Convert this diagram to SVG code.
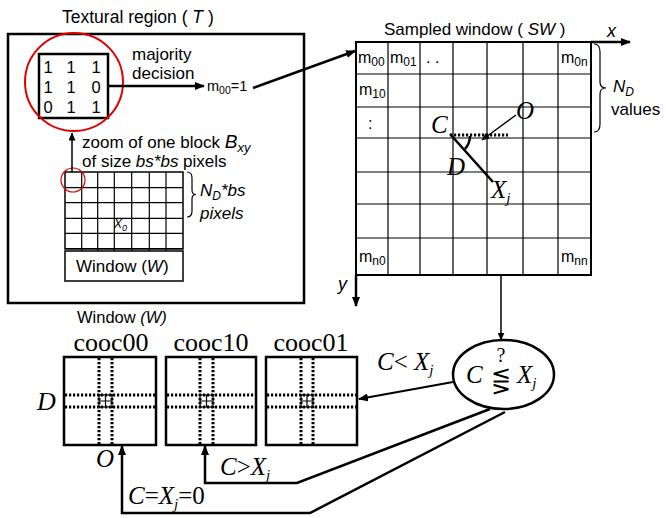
<svg xmlns="http://www.w3.org/2000/svg" width="666" height="518" viewBox="0 0 666 518">
<defs>
<marker id="ah" markerWidth="10" markerHeight="8" refX="9" refY="4" orient="auto" markerUnits="userSpaceOnUse"><path d="M0,0 L10,4 L0,8 Z" fill="#000"/></marker>
<marker id="ahs" markerWidth="8" markerHeight="7" refX="7.5" refY="3.5" orient="auto" markerUnits="userSpaceOnUse"><path d="M0,0 L8,3.5 L0,7 Z" fill="#000"/></marker>
<style>
.sans{font-family:"Liberation Sans",Arial,sans-serif;fill:#000}
.serif{font-family:"Liberation Serif","Times New Roman",serif;fill:#000}
.it{font-style:italic}
.thin{stroke:#000;stroke-width:1.2;fill:none}
.box{stroke:#000;stroke-width:2.5;fill:#fff}
.con{stroke:#000;stroke-width:2.5;fill:none}
.dot{stroke:#000;stroke-width:3;stroke-dasharray:2.2 1.8;fill:none}
</style>
</defs>
<rect width="666" height="518" fill="#fff"/>

<g id="textural-region">
<rect x="8" y="34" width="296" height="269" class="box" fill="none"/>
<text x="62" y="23" class="sans" font-size="17.5">Textural region ( <tspan class="it">T</tspan> )</text>
<rect x="39" y="54" width="69" height="64" fill="none" stroke="#000" stroke-width="2.5"/>
<g class="sans" font-size="16.5" text-anchor="middle">
<text x="48" y="73">1</text><text x="71" y="73">1</text><text x="96" y="73">1</text>
<text x="48" y="93">1</text><text x="71" y="93">1</text><text x="96" y="93">0</text>
<text x="48" y="113">0</text><text x="71" y="113">1</text><text x="96" y="113">1</text>
</g>
<circle cx="74" cy="82" r="49" fill="none" stroke="#e00000" stroke-width="2"/>
<text x="132" y="60" class="sans" font-size="17">majority</text>
<text x="132" y="79" class="sans" font-size="17">decision</text>
<text x="207" y="91" class="sans" font-size="14.5">m<tspan font-size="10.5" dy="3">00</tspan><tspan dy="-3">=1</tspan></text>
<text x="82" y="148" class="sans" font-size="17">zoom of one block <tspan class="it" font-size="19">B</tspan><tspan class="it" font-size="13" dy="4">xy</tspan></text>
<text x="82" y="167" class="sans" font-size="17">of size <tspan class="it">bs*bs</tspan> pixels</text>
</g>

<g id="window">
<g class="thin">
<path d="M81.7,172 V251 M97.7,172 V251 M114.3,172 V251 M131.7,172 V251 M149.3,172 V251 M166,172 V251"/>
<path d="M65,187.7 H183 M65,202.7 H183 M65,218.3 H183 M65,233.3 H183 M65,248.5 H183"/>
</g>
<rect x="65" y="172" width="118" height="77" fill="none" stroke="#000" stroke-width="1.5"/>
<rect x="65" y="251" width="118" height="30" fill="#fff" stroke="#000" stroke-width="1.5"/>
<text x="76" y="272" class="sans" font-size="17">Window (<tspan class="it">W</tspan>)</text>
<text x="114" y="228" class="sans it" font-size="12">X<tspan font-size="9" dy="3">0</tspan></text>
<circle cx="73" cy="180" r="12" fill="none" stroke="#e00000" stroke-width="1.2"/>
<path d="M187,172 Q192,172 192,178 L192,190 Q192,194.5 196,194.5 Q192,194.5 192,199 L192,211 Q192,217 187,217" class="thin"/>
<text x="200" y="196" class="sans it" font-size="17">N<tspan font-size="12" dy="4">D</tspan><tspan dy="-4">*bs</tspan></text>
<text x="200" y="219" class="sans it" font-size="17">pixels</text>
</g>

<g id="sampled-window">
<text x="384" y="35" class="sans" font-size="17">Sampled window ( <tspan class="it">SW</tspan> )</text>
<g class="thin">
<path d="M388,42 V275 M420,42 V275 M453,42 V275 M487,42 V275 M523,42 V275 M558,42 V275"/>
<path d="M356,74 H591 M356,107 H591 M356,138 H591 M356,172 H591 M356,204 H591 M356,238 H591"/>
</g>
<rect x="356" y="42" width="235" height="233" fill="none" stroke="#000" stroke-width="2"/>
<g class="sans" font-size="16">
<text x="358" y="63">m<tspan font-size="12" dy="3">00</tspan></text>
<text x="390" y="63">m<tspan font-size="12" dy="3">01</tspan></text>
<text x="426" y="63">. .</text>
<text x="561" y="63">m<tspan font-size="12" dy="3">0n</tspan></text>
<text x="359" y="95">m<tspan font-size="12" dy="3">10</tspan></text>
<text x="368" y="129">:</text>
<text x="359" y="262">m<tspan font-size="12" dy="3">n0</tspan></text>
<text x="561" y="262">m<tspan font-size="12" dy="3">nn</tspan></text>
</g>
<text x="607" y="37" class="sans it" font-size="18">x</text>
<text x="338" y="290" class="sans it" font-size="18">y</text>
<path d="M594,44 Q600,44 600,52 L600,82 Q600,88 606,88 Q600,88 600,94 L600,124 Q600,132 594,132" class="thin"/>
<text x="613" y="92" class="sans it" font-size="17">N<tspan font-size="12" dy="4">D</tspan></text>
<text x="611" y="115" class="sans" font-size="17">values</text>
<path d="M450,135 H508" class="dot" stroke-width="3" stroke-dasharray="2 1.6"/>
<path d="M450,134 L493,182" class="con"/>
<path d="M470,136 A20,20 0 0 1 465,149" class="con"/>
<path d="M516,115 L482,140" stroke="#000" stroke-width="1.5" marker-end="url(#ahs)"/>
<text x="431" y="133" class="serif it" font-size="25">C</text>
<text x="516" y="119" class="serif it" font-size="25">O</text>
<text x="447" y="175" class="serif it" font-size="25">D</text>
<text x="491" y="198" class="serif it" font-size="25">X<tspan font-size="15" dy="5">j</tspan></text>
</g>

<g id="decision">
<ellipse cx="503.5" cy="374.5" rx="50.5" ry="34.5" fill="#fff" stroke="#000" stroke-width="2.5"/>
<text x="501" y="362" class="serif" font-size="20" text-anchor="middle">?</text>
<text x="466" y="383" class="serif it" font-size="25">C</text>
<text x="501" y="389" font-family="DejaVu Sans,sans-serif" font-size="24" font-weight="200" text-anchor="middle">⋚</text>
<text x="517" y="383" class="serif it" font-size="25">X<tspan font-size="15" dy="5">j</tspan></text>
</g>

<g id="window-label">
<text x="77" y="323" class="sans" font-size="16.5">Window <tspan class="it">(W)</tspan></text>
</g>

<g id="cooc00">
<text x="111" y="351" class="serif" font-size="26" text-anchor="middle">cooc00</text>
<rect x="64" y="357" width="92" height="88" class="box"/>
<path d="M99,358 V444 M112,358 V444 M65,395 H155 M65,407 H155" class="dot"/>
<rect x="99" y="395" width="13" height="12" fill="#fff" class="thin"/>
<path d="M105.5,395 V407 M99,401 H112" class="thin"/>
</g>
<g id="cooc10">
<text x="211" y="351" class="serif" font-size="26" text-anchor="middle">cooc10</text>
<rect x="166" y="357" width="90" height="88" class="box"/>
<path d="M200,358 V444 M213,358 V444 M167,395 H255 M167,407 H255" class="dot"/>
<rect x="200" y="395" width="13" height="12" fill="#fff" class="thin"/>
<path d="M206.5,395 V407 M200,401 H213" class="thin"/>
</g>
<g id="cooc01">
<text x="311" y="351" class="serif" font-size="26" text-anchor="middle">cooc01</text>
<rect x="266" y="357" width="91" height="88" class="box"/>
<path d="M301,358 V444 M313,358 V444 M267,395 H356 M267,407 H356" class="dot"/>
<rect x="301" y="395" width="12" height="12" fill="#fff" class="thin"/>
<path d="M307,395 V407 M301,401 H313" class="thin"/>
</g>

<g id="labels">
<text x="37" y="410" class="serif it" font-size="26">D</text>
<text x="96" y="467" class="serif it" font-size="25">O</text>
<text x="377" y="370" class="serif" font-size="25"><tspan class="it">C</tspan>&lt; <tspan class="it">X</tspan><tspan class="it" font-size="15" dy="5">j</tspan></text>
<text x="220" y="475" class="serif" font-size="25"><tspan class="it">C</tspan>&gt;<tspan class="it">X</tspan><tspan class="it" font-size="15" dy="5">j</tspan></text>
<text x="128" y="504" class="serif" font-size="25"><tspan class="it">C</tspan>=<tspan class="it">X</tspan><tspan class="it" font-size="15" dy="5">j</tspan><tspan dy="-5">=0</tspan></text>
</g>

<g id="connectors">
<path d="M108,86 H204" class="con" marker-end="url(#ah)"/>
<path d="M253,88 L355,51" class="con" stroke-width="3" marker-end="url(#ah)"/>
<path d="M72,172 V133" stroke="#000" stroke-width="1.5" marker-end="url(#ahs)"/>
<path d="M591,42 H630" class="con" marker-end="url(#ah)"/>
<path d="M356,275 V306" class="con" marker-end="url(#ah)"/>
<path d="M501,275 V340" stroke="#000" stroke-width="1.5" marker-end="url(#ahs)"/>
<path d="M453,382 L359,399" stroke="#000" stroke-width="2" marker-end="url(#ah)"/>
<path d="M490,409 L297,483 H205 V446" class="con" marker-end="url(#ah)"/>
<path d="M505,412 L310,513 H122 V446" class="con" marker-end="url(#ah)"/>
</g>
</svg>
